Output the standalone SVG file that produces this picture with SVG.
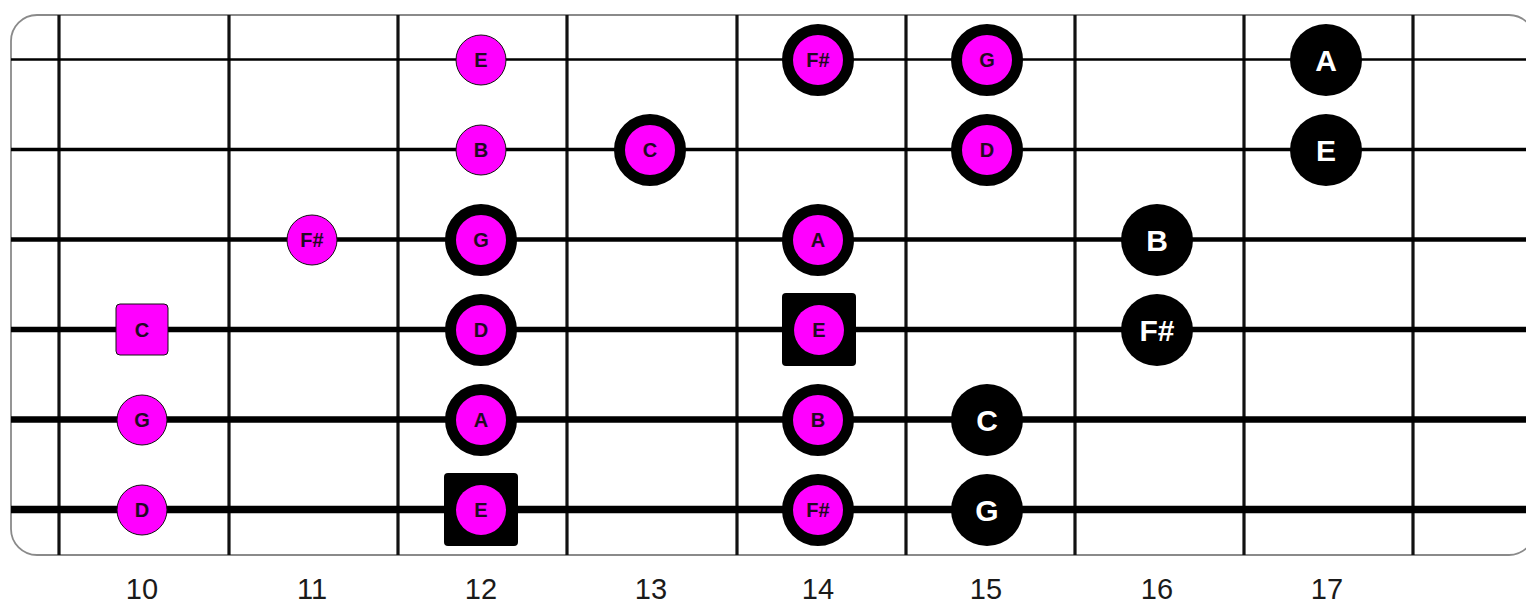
<svg xmlns="http://www.w3.org/2000/svg" width="1526" height="606" viewBox="0 0 1526 606">
<style>
.board{fill:#fff;stroke:#8a8a8a;stroke-width:1.8}
.fret{stroke:#111;stroke-width:3.2}
.str{stroke:#000}
.num{font-family:"Liberation Sans",Arial,sans-serif;font-size:29px;fill:#1a1a1a;text-anchor:middle}
.sm{fill:#ff00ff;stroke:#111;stroke-width:1}
.ring{fill:#ff00ff;stroke:#000;stroke-width:11}
.blk{fill:#000}
.mag{fill:#ff00ff}
.lt{font-family:"Liberation Sans",Arial,sans-serif;font-weight:bold;font-size:20px;fill:#220a22;text-anchor:middle}
.wt{font-family:"Liberation Sans",Arial,sans-serif;font-weight:bold;font-size:30px;fill:#fff;text-anchor:middle}
</style>
<rect class="board" x="11" y="15" width="1524" height="540" rx="26" ry="26"/>
<g id="frets">
<line class="fret" x1="59" y1="15" x2="59" y2="555"/>
<line class="fret" x1="229" y1="15" x2="229" y2="555"/>
<line class="fret" x1="398" y1="15" x2="398" y2="555"/>
<line class="fret" x1="567" y1="15" x2="567" y2="555"/>
<line class="fret" x1="737" y1="15" x2="737" y2="555"/>
<line class="fret" x1="906" y1="15" x2="906" y2="555"/>
<line class="fret" x1="1075" y1="15" x2="1075" y2="555"/>
<line class="fret" x1="1244" y1="15" x2="1244" y2="555"/>
<line class="fret" x1="1413" y1="15" x2="1413" y2="555"/>
</g>
<g id="strings">
<line class="str" x1="11" y1="59.5" x2="1526" y2="59.5" stroke-width="2.5"/>
<line class="str" x1="11" y1="149.5" x2="1526" y2="149.5" stroke-width="3.5"/>
<line class="str" x1="11" y1="239.5" x2="1526" y2="239.5" stroke-width="4.5"/>
<line class="str" x1="11" y1="329.5" x2="1526" y2="329.5" stroke-width="5.5"/>
<line class="str" x1="11" y1="419.5" x2="1526" y2="419.5" stroke-width="6.5"/>
<line class="str" x1="11" y1="509.5" x2="1526" y2="509.5" stroke-width="7.5"/>
</g>
<g id="fret-numbers">
<text class="num" x="142" y="599">10</text>
<text class="num" x="312" y="599">11</text>
<text class="num" x="481" y="599">12</text>
<text class="num" x="651" y="599">13</text>
<text class="num" x="818" y="599">14</text>
<text class="num" x="986" y="599">15</text>
<text class="num" x="1157" y="599">16</text>
<text class="num" x="1327" y="599">17</text>
</g>
<!-- string 1 -->
<g id="n-s1-E"><circle class="sm" cx="481" cy="60" r="25"/><text class="lt" x="481" y="67">E</text></g>
<g id="n-s1-Fs"><circle class="ring" cx="818" cy="60" r="30.5"/><text class="lt" x="818" y="67">F#</text></g>
<g id="n-s1-G"><circle class="ring" cx="987" cy="60" r="30.5"/><text class="lt" x="987" y="67">G</text></g>
<g id="n-s1-A"><circle class="blk" cx="1326" cy="60" r="36"/><text class="wt" x="1326" y="71">A</text></g>
<!-- string 2 -->
<g id="n-s2-B"><circle class="sm" cx="481" cy="150" r="25"/><text class="lt" x="481" y="157">B</text></g>
<g id="n-s2-C"><circle class="ring" cx="650" cy="150" r="30.5"/><text class="lt" x="650" y="157">C</text></g>
<g id="n-s2-D"><circle class="ring" cx="987" cy="150" r="30.5"/><text class="lt" x="987" y="157">D</text></g>
<g id="n-s2-E"><circle class="blk" cx="1326" cy="150" r="36"/><text class="wt" x="1326" y="161">E</text></g>
<!-- string 3 -->
<g id="n-s3-Fs"><circle class="sm" cx="312" cy="240" r="25"/><text class="lt" x="312" y="247">F#</text></g>
<g id="n-s3-G"><circle class="ring" cx="481" cy="240" r="30.5"/><text class="lt" x="481" y="247">G</text></g>
<g id="n-s3-A"><circle class="ring" cx="818" cy="240" r="30.5"/><text class="lt" x="818" y="247">A</text></g>
<g id="n-s3-B"><circle class="blk" cx="1157" cy="240" r="36"/><text class="wt" x="1157" y="251">B</text></g>
<!-- string 4 -->
<g id="n-s4-C"><rect class="sm" x="116" y="304" width="52" height="51" rx="4"/><text class="lt" x="142" y="337">C</text></g>
<g id="n-s4-D"><circle class="ring" cx="481" cy="330" r="30.5"/><text class="lt" x="481" y="337">D</text></g>
<g id="n-s4-E"><rect class="blk" x="782" y="293" width="74" height="73" rx="4"/><circle class="mag" cx="819" cy="330" r="25"/><text class="lt" x="819" y="337">E</text></g>
<g id="n-s4-Fs"><circle class="blk" cx="1157" cy="330" r="36"/><text class="wt" x="1157" y="341">F#</text></g>
<!-- string 5 -->
<g id="n-s5-G"><circle class="sm" cx="142" cy="420" r="25"/><text class="lt" x="142" y="427">G</text></g>
<g id="n-s5-A"><circle class="ring" cx="481" cy="420" r="30.5"/><text class="lt" x="481" y="427">A</text></g>
<g id="n-s5-B"><circle class="ring" cx="818" cy="420" r="30.5"/><text class="lt" x="818" y="427">B</text></g>
<g id="n-s5-C"><circle class="blk" cx="987" cy="420" r="36"/><text class="wt" x="987" y="431">C</text></g>
<!-- string 6 -->
<g id="n-s6-D"><circle class="sm" cx="142" cy="510" r="25"/><text class="lt" x="142" y="517">D</text></g>
<g id="n-s6-E"><rect class="blk" x="444" y="473" width="74" height="73" rx="4"/><circle class="mag" cx="481" cy="510" r="25"/><text class="lt" x="481" y="517">E</text></g>
<g id="n-s6-Fs"><circle class="ring" cx="818" cy="510" r="30.5"/><text class="lt" x="818" y="517">F#</text></g>
<g id="n-s6-G"><circle class="blk" cx="987" cy="510" r="36"/><text class="wt" x="987" y="521">G</text></g>
</svg>
